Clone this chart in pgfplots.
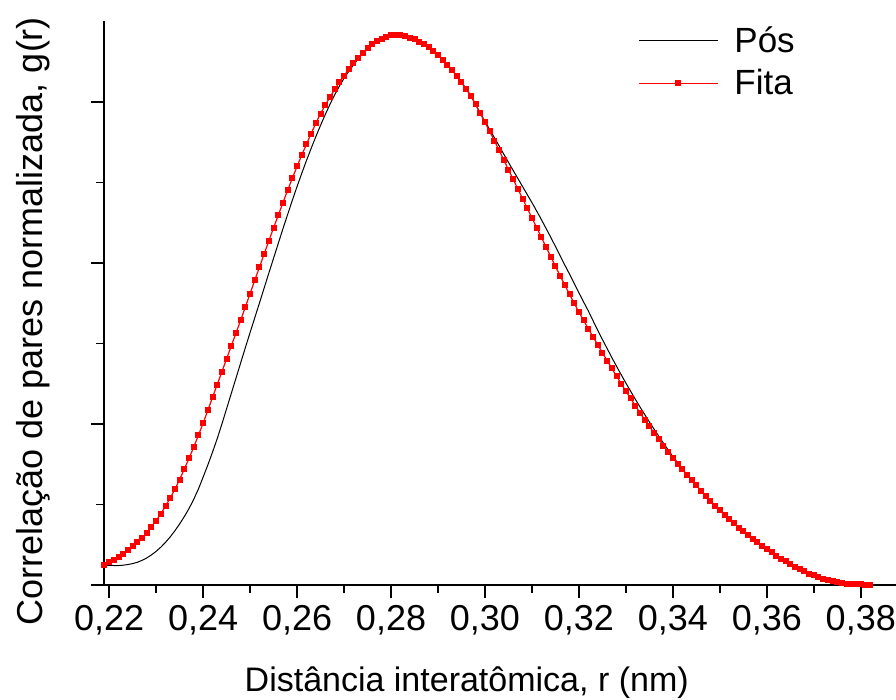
\documentclass[border=0pt]{standalone}
\usepackage{fontspec}
\setmainfont{Liberation Sans}
\usepackage{pgfplots}
\pgfplotsset{compat=1.18}

% g(r) curves
\pgfplotstableread{
r g
0.219 0.124
0.220 0.122
0.221 0.121
0.222 0.121
0.223 0.123
0.224 0.127
0.225 0.133
0.226 0.141
0.227 0.153
0.228 0.168
0.229 0.187
0.230 0.209
0.231 0.235
0.232 0.265
0.233 0.299
0.234 0.337
0.235 0.379
0.236 0.425
0.237 0.475
0.238 0.532
0.239 0.596
0.240 0.670
0.241 0.745
0.242 0.825
0.243 0.909
0.244 1.000
0.245 1.095
0.246 1.190
0.247 1.285
0.248 1.380
0.249 1.475
0.250 1.568
0.251 1.660
0.252 1.752
0.253 1.845
0.254 1.938
0.255 2.030
0.256 2.122
0.257 2.213
0.258 2.302
0.259 2.390
0.260 2.475
0.261 2.557
0.262 2.636
0.263 2.712
0.264 2.785
0.265 2.855
0.266 2.922
0.267 2.985
0.268 3.044
0.269 3.098
0.270 3.147
0.271 3.190
0.272 3.230
0.273 3.268
0.274 3.300
0.275 3.333
0.276 3.357
0.277 3.377
0.278 3.393
0.279 3.405
0.280 3.413
0.281 3.417
0.282 3.415
0.283 3.409
0.284 3.400
0.285 3.389
0.286 3.375
0.287 3.358
0.288 3.339
0.289 3.318
0.290 3.292
0.291 3.263
0.292 3.232
0.293 3.198
0.294 3.161
0.295 3.122
0.296 3.081
0.297 3.038
0.298 2.985
0.299 2.930
0.300 2.879
0.301 2.829
0.302 2.779
0.303 2.728
0.304 2.676
0.305 2.625
0.306 2.575
0.307 2.525
0.308 2.475
0.309 2.425
0.310 2.375
0.311 2.323
0.312 2.270
0.313 2.215
0.314 2.160
0.315 2.103
0.316 2.045
0.317 1.987
0.318 1.931
0.319 1.873
0.320 1.815
0.321 1.758
0.322 1.702
0.323 1.642
0.324 1.582
0.325 1.525
0.326 1.469
0.327 1.413
0.328 1.359
0.329 1.306
0.330 1.254
0.331 1.204
0.332 1.154
0.333 1.106
0.334 1.059
0.335 1.013
0.336 0.968
0.337 0.924
0.338 0.881
0.339 0.839
0.340 0.798
0.341 0.759
0.342 0.721
0.343 0.685
0.344 0.652
0.345 0.618
0.346 0.585
0.347 0.553
0.348 0.522
0.349 0.492
0.350 0.463
0.351 0.435
0.352 0.408
0.353 0.382
0.354 0.357
0.355 0.333
0.356 0.310
0.357 0.287
0.358 0.265
0.359 0.244
0.360 0.223
0.361 0.203
0.362 0.183
0.363 0.164
0.364 0.146
0.365 0.129
0.366 0.113
0.367 0.098
0.368 0.084
0.369 0.071
0.370 0.059
0.371 0.048
0.372 0.038
0.373 0.030
0.374 0.023
0.375 0.017
0.376 0.012
0.377 0.009
0.378 0.006
0.379 0.005
0.380 0.004
0.381 0.003
0.382 0.003
}\pos

\pgfplotstableread{
r g
0.219 0.124
0.220 0.140
0.221 0.158
0.222 0.176
0.223 0.195
0.224 0.215
0.225 0.240
0.226 0.265
0.227 0.293
0.228 0.325
0.229 0.362
0.230 0.400
0.231 0.443
0.232 0.490
0.233 0.540
0.234 0.595
0.235 0.655
0.236 0.720
0.237 0.787
0.238 0.856
0.239 0.930
0.240 1.004
0.241 1.085
0.242 1.165
0.243 1.245
0.244 1.325
0.245 1.405
0.246 1.485
0.247 1.565
0.248 1.645
0.249 1.727
0.250 1.810
0.251 1.893
0.252 1.975
0.253 2.057
0.254 2.138
0.255 2.218
0.256 2.297
0.257 2.375
0.258 2.452
0.259 2.527
0.260 2.600
0.261 2.670
0.262 2.738
0.263 2.804
0.264 2.868
0.265 2.928
0.266 2.980
0.267 3.030
0.268 3.078
0.269 3.122
0.270 3.163
0.271 3.203
0.272 3.240
0.273 3.275
0.274 3.305
0.275 3.333
0.276 3.357
0.277 3.377
0.278 3.393
0.279 3.405
0.280 3.413
0.281 3.417
0.282 3.415
0.283 3.409
0.284 3.400
0.285 3.389
0.286 3.375
0.287 3.358
0.288 3.339
0.289 3.318
0.290 3.292
0.291 3.263
0.292 3.232
0.293 3.198
0.294 3.161
0.295 3.122
0.296 3.081
0.297 3.038
0.298 2.985
0.299 2.930
0.300 2.874
0.301 2.817
0.302 2.759
0.303 2.700
0.304 2.640
0.305 2.580
0.306 2.520
0.307 2.460
0.308 2.400
0.309 2.340
0.310 2.280
0.311 2.220
0.312 2.160
0.313 2.100
0.314 2.040
0.315 1.980
0.316 1.920
0.317 1.862
0.318 1.806
0.319 1.750
0.320 1.695
0.321 1.643
0.322 1.592
0.323 1.542
0.324 1.492
0.325 1.443
0.326 1.394
0.327 1.345
0.328 1.297
0.329 1.250
0.330 1.204
0.331 1.159
0.332 1.114
0.333 1.070
0.334 1.027
0.335 0.985
0.336 0.944
0.337 0.904
0.338 0.865
0.339 0.827
0.340 0.790
0.341 0.754
0.342 0.719
0.343 0.685
0.344 0.652
0.345 0.618
0.346 0.585
0.347 0.553
0.348 0.522
0.349 0.492
0.350 0.463
0.351 0.435
0.352 0.408
0.353 0.382
0.354 0.357
0.355 0.333
0.356 0.310
0.357 0.287
0.358 0.265
0.359 0.244
0.360 0.223
0.361 0.203
0.362 0.183
0.363 0.164
0.364 0.146
0.365 0.129
0.366 0.113
0.367 0.098
0.368 0.084
0.369 0.071
0.370 0.059
0.371 0.048
0.372 0.038
0.373 0.030
0.374 0.023
0.375 0.017
0.376 0.012
0.377 0.009
0.378 0.006
0.379 0.005
0.380 0.004
0.381 0.003
0.382 0.003
}\fita

\begin{document}
\begin{tikzpicture}
\begin{axis}[
    scale only axis,
    width=396pt, height=282pt,
    xmin=0.2189, xmax=0.3875,
    ymin=0, ymax=3.503,
    axis lines*=left,
    axis line style={line width=0.8pt},
    tick align=outside,
    major tick length=6.5pt,
    minor tick length=4pt,
    every tick/.style={black, line width=0.8pt},
    xtick={0.22,0.24,0.26,0.28,0.30,0.32,0.34,0.36,0.38},
    minor x tick num=1,
    ytick={0,1,2,3},
    minor y tick num=1,
    yticklabels={},
    xticklabel style={
        /pgf/number format/.cd, use comma, fixed, fixed zerofill, precision=2,
        assume math mode=true},
    tick label style={font=\fontsize{18}{21}\selectfont, inner sep=3.5pt},
    every axis x label/.style={at={(axis description cs:0.458,-0.202)},
        anchor=south, inner sep=0pt, font=\fontsize{17}{20}\selectfont},
    every axis y label/.style={at={(axis description cs:-0.0669,0.468)},
        rotate=90, anchor=south, inner sep=0pt, font=\fontsize{18}{21}\selectfont},
    xlabel={Distância interatômica, r (nm)},
    ylabel={Correlação de pares normalizada, g(r)},
    legend image code/.code={
        \draw[mark repeat=2,mark phase=2,#1]
            plot coordinates {(0pt,0pt) (19.75pt,0pt) (39.5pt,0pt)};},
    legend style={draw=none, fill=none, at={(axis description cs:0.674,0.998)},
        anchor=north west, font=\fontsize{17.5}{20}\selectfont,
        row sep=3pt, inner sep=0pt,
        /tikz/every odd column/.append style={column sep=6pt}},
    legend cell align=left,
]
\addplot[black, line width=0.5pt] table[x=r, y=g] {\pos};
\addlegendentry{Pós}
\addplot[red, line width=0.6pt, mark=square*, mark size=1.2pt, mark options={solid}]
    table[x=r, y=g] {\fita};
\addlegendentry{Fita}
\coordinate (bl) at (rel axis cs:0,0);
\coordinate (tr) at (rel axis cs:1,1);
\end{axis}
\pgfresetboundingbox
\path ([shift={(-52pt,-57.5pt)}]bl) rectangle ([shift={(0pt,10.5pt)}]tr);
\end{tikzpicture}
\end{document}
